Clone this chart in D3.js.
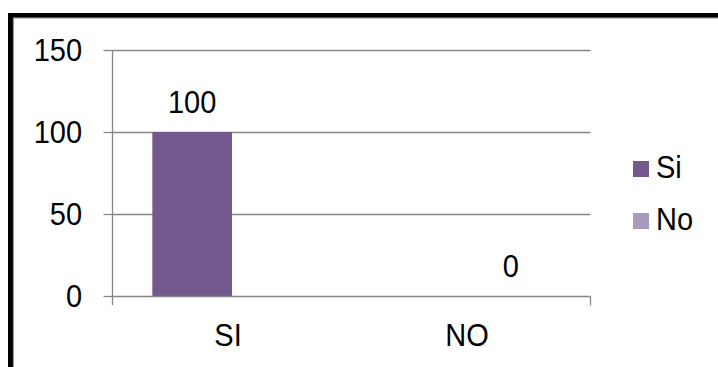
<!DOCTYPE html>
<html>
<head>
<meta charset="utf-8">
<script src="https://cdn.jsdelivr.net/npm/d3@7"></script>
<style>
  html, body { margin: 0; padding: 0; background: #fff; }
  svg { display: block; }
  text { font-family: "Liberation Sans", Arial, sans-serif; fill: #000; }
</style>
</head>
<body>
<div id="chart"></div>
<script>
// Survey answers: one bar group per category, one bar per series
const categories = ["SI", "NO"];
const seriesNames = ["Si", "No"];
const siValues = [100, null];
const noValues = [null, 0];
const yTicks = [0, 50, 100, 150];
const colors = ["#725990", "#A99BBD"];

const W = 718, H = 367;
const FONT = 29, STRETCH = 1.1;
const svg = d3.select("#chart").append("svg").attr("width", W).attr("height", H);

// Text is drawn slightly taller than wide: scale vertically about its baseline
function stretch(sel) {
  sel.attr("transform", function () {
    const yv = +(this.getAttribute("y") || 0);
    return `translate(0,${yv}) scale(1,${STRETCH}) translate(0,${-yv})`;
  });
}

// Outer frame (black with a thin grey inner edge), running past the right and bottom edges
svg.append("rect").attr("x", 10.5).attr("y", 15.5).attr("width", W + 20).attr("height", H + 20)
  .attr("fill", "#fff").attr("stroke", "#000").attr("stroke-width", 5);
svg.append("rect").attr("x", 13.5).attr("y", 18).attr("width", W + 20).attr("height", H + 20)
  .attr("fill", "none").attr("stroke", "#999").attr("stroke-width", 1.2);

const plot = { left: 112.5, right: 590.5, top: 50, bottom: 296 };

const x = d3.scaleBand().domain(categories).range([plot.left, plot.right]).paddingInner(1 / 3).paddingOuter(1 / 6);
const xs = d3.scaleBand().domain(seriesNames).range([0, x.bandwidth()]);
const y = d3.scaleLinear().domain([0, 150]).range([plot.bottom, plot.top]);

const gridColor = "#868686";

// Horizontal gridlines
svg.append("g").selectAll("line").data(yTicks.filter(t => t > 0)).join("line")
  .attr("x1", plot.left).attr("x2", plot.right)
  .attr("y1", d => Math.round(y(d)) + 0.5).attr("y2", d => Math.round(y(d)) + 0.5)
  .attr("stroke", gridColor).attr("stroke-width", 1.3);

// Bars with value labels
const series = [siValues, noValues];
series.forEach((vals, si) => {
  const rows = categories.map((c, i) => ({ c, v: vals[i] })).filter(d => d.v !== null);
  svg.append("g").selectAll("rect").data(rows).join("rect")
    .attr("x", d => x(d.c) + xs(seriesNames[si]))
    .attr("width", xs.bandwidth())
    .attr("y", d => y(d.v))
    .attr("height", d => y(0) - y(d.v))
    .attr("fill", colors[si]);
  svg.append("g").selectAll("text").data(rows).join("text")
    .attr("x", d => x(d.c) + xs(seriesNames[si]) + xs.bandwidth() / 2)
    .attr("y", d => y(d.v) - 18.5)
    .attr("text-anchor", "middle")
    .attr("font-size", FONT)
    .text(d => d.v)
    .call(stretch);
});

// Y axis
const yAxis = d3.axisLeft(y).tickValues(yTicks).tickSize(9).tickPadding(21.5).tickFormat(d3.format("d"));
const gy = svg.append("g").attr("transform", `translate(${plot.left},0)`).call(yAxis);
gy.select(".domain").remove();
gy.append("line").attr("x1", 0).attr("x2", 0).attr("y1", plot.top).attr("y2", plot.bottom + 9)
  .attr("stroke", gridColor).attr("stroke-width", 1.3);
gy.selectAll(".tick line").attr("stroke", gridColor).attr("stroke-width", 1.3);
gy.selectAll(".tick text").attr("font-size", FONT).attr("font-family", "Liberation Sans, Arial, sans-serif")
  .attr("fill", "#000").attr("dy", null).attr("y", 10).call(stretch);

// X axis
const xAxis = d3.axisBottom(x).tickSize(0);
const gx = svg.append("g").attr("transform", `translate(0,${plot.bottom + 0.5})`).call(xAxis);
gx.select(".domain").remove();
gx.append("line").attr("x1", plot.left).attr("x2", plot.right).attr("stroke", gridColor).attr("stroke-width", 1.3);
gx.append("line").attr("x1", plot.right).attr("x2", plot.right).attr("y1", 0).attr("y2", 9)
  .attr("stroke", gridColor).attr("stroke-width", 1.3);
gx.selectAll(".tick text").attr("font-size", FONT).attr("font-family", "Liberation Sans, Arial, sans-serif")
  .attr("fill", "#000").attr("dy", null).attr("y", 49.5).attr("x", -4).call(stretch);

// Legend
const legend = svg.append("g").attr("transform", "translate(633,161)");
seriesNames.forEach((name, i) => {
  const g = legend.append("g").attr("transform", `translate(0,${i * 52})`);
  g.append("rect").attr("width", 16).attr("height", 16).attr("fill", colors[i]);
  g.append("text").attr("x", 23).attr("y", 16.5).attr("font-size", FONT).text(name).call(stretch);
});
</script>
</body>
</html>
